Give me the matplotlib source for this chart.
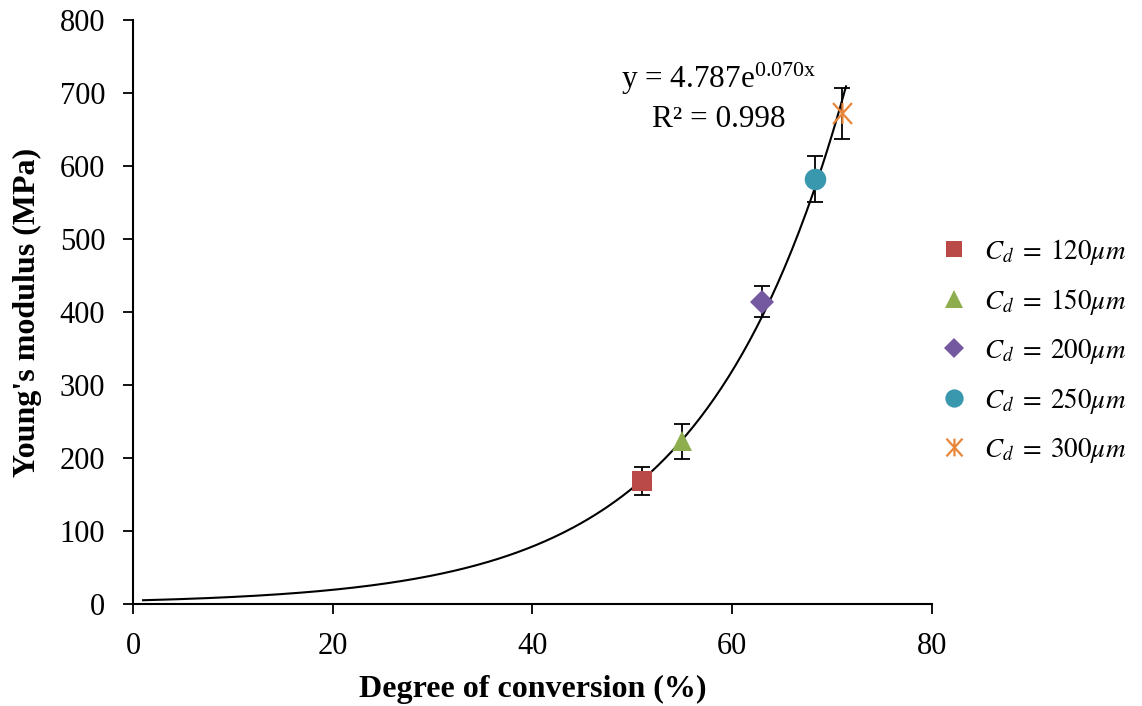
import numpy as np
import matplotlib.pyplot as plt
from matplotlib.path import Path

plt.rcParams['font.family'] = ['Liberation Serif', 'DejaVu Serif']
plt.rcParams['mathtext.fontset'] = 'stix'

# data
labels = [r'$C_d\;=\;120\mu m$', r'$C_d\;=\;150\mu m$', r'$C_d\;=\;200\mu m$',
          r'$C_d\;=\;250\mu m$', r'$C_d\;=\;300\mu m$']
doc = [51.0, 55.0, 63.0, 68.3, 71.0]
modulus = [168, 223, 414, 582, 672]
err = [19, 24, 21, 31, 35]
colors = ['#B94A48', '#8EAD4E', '#7459A0', '#3A98AE', '#E8863A']

# excel-like star marker: an X with a vertical stroke
star = Path([(-1, -1.1), (1, 1.1), (-1, 1.1), (1, -1.1), (0, -1.1), (0, 1.1)],
            [Path.MOVETO, Path.LINETO, Path.MOVETO, Path.LINETO, Path.MOVETO, Path.LINETO])
markers = ['s', '^', 'D', 'o', star]
sizes = [14, 15, 12, 15.5, 15]

fit_a, fit_b = 4.787, 0.070

fig = plt.figure(figsize=(11.42, 7.06), dpi=100)
ax = fig.add_axes([0.1165, 0.1445, 0.6995, 0.8272])

xs = np.linspace(1, 71.4, 300)
ax.plot(xs, fit_a * np.exp(fit_b * xs), color='black', lw=1.5, zorder=3)

for x, y, e, m, c, s, lab in zip(doc, modulus, err, markers, colors, sizes, labels):
    ax.errorbar(x, y, yerr=e, fmt='none', ecolor='black', elinewidth=1.3,
                capsize=6, capthick=1.3, zorder=2)
    mew = 1.6 if isinstance(m, Path) else 0
    ax.plot(x, y, linestyle='none', marker=m, color=c, markersize=s,
            markeredgewidth=mew, zorder=4, label=lab)

ax.set_xlim(0, 80)
ax.set_ylim(0, 800)
ax.set_xticks(np.arange(0, 81, 20))
ax.set_yticks(np.arange(0, 801, 100))
ax.tick_params(direction='out', length=7, width=1.3, labelsize=22, pad=13)
for side in ['top', 'right']:
    ax.spines[side].set_visible(False)
for side in ['left', 'bottom']:
    ax.spines[side].set_linewidth(1.5)

ax.set_xlabel('Degree of conversion (%)', fontsize=23, fontweight='bold')
ax.set_ylabel("Young's modulus (MPa)", fontsize=23, fontweight='bold')
ax.xaxis.set_label_coords(0.5, -0.122)
ax.yaxis.set_label_coords(-0.114, 0.5)

ax.text(48.9, 707, r'y = 4.787e$^{\mathregular{0.070x}}$', fontsize=22.5,
        ha='left', va='baseline')
ax.text(52.0, 653, 'R² = 0.998', fontsize=22.5, ha='left', va='baseline')

handles, labs = ax.get_legend_handles_labels()
leg = fig.legend(handles, labs, loc='upper left', bbox_to_anchor=(0.812, 0.68),
                 frameon=False, fontsize=19.5, handletextpad=0.5, labelspacing=0.74,
                 markerscale=0.85, handlelength=1.2, borderaxespad=0)

fig.savefig('out.png', dpi=100)
